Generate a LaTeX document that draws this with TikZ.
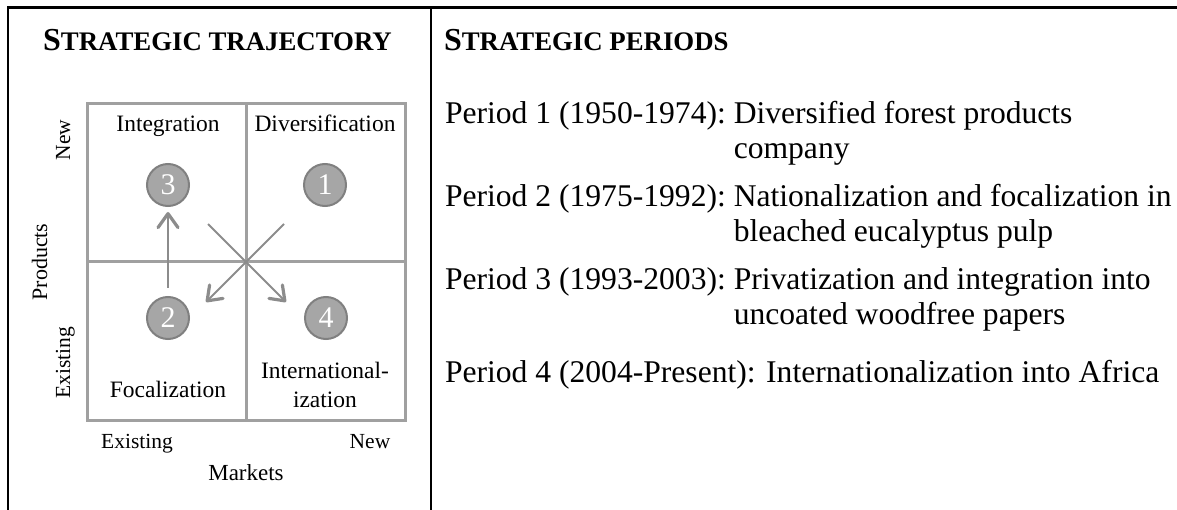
\documentclass[tikz,border=0pt]{standalone}
\usepackage{fontspec}
\setmainfont{Liberation Serif}
\usetikzlibrary{arrows.meta}
\definecolor{gridgray}{RGB}{160,160,160}
\definecolor{arrowgray}{RGB}{140,140,140}
\definecolor{circfill}{RGB}{166,166,166}
\definecolor{circdraw}{RGB}{128,128,128}
\newcommand\ttlbig{\fontsize{32}{34}\selectfont}
\newcommand\ttlsmall{\fontsize{26.8}{34}\selectfont}
\begin{document}
\begin{tikzpicture}[x=1pt,y=-1pt,
  every node/.style={inner sep=0pt, outer sep=0pt},
  frameline/.style={line width=2.6pt, black},
  gridline/.style={line width=3pt, gridgray},
  ttl/.style={font=\bfseries},
  quad/.style={font=\fontsize{23.5}{29}\selectfont, anchor=base},
  axislbl/.style={font=\fontsize{21.5}{25}\selectfont, anchor=base},
  num/.style={circle, fill=circfill, draw=circdraw, line width=2pt, minimum size=42pt, text=white, font=\fontsize{30}{30}\selectfont},
  body/.style={font=\fontsize{31.6}{35}\selectfont, anchor=base west},
  arr/.style={arrowgray, line width=2.7pt, -{Straight Barb[length=14pt,width=20pt,line width=3.2pt,round]}},
  diagarr/.style={arrowgray, line width=2pt, -{Straight Barb[length=13pt,width=19pt,line width=3.2pt,round]}}
]
\useasboundingbox (0,0) rectangle (1177,510);
% frame
\coordinate (tl) at (8,7.5);
\coordinate (tr) at (1177,7.5);
\coordinate (bl) at (8,510);
\coordinate (dt) at (431,7.5);
\coordinate (db) at (431,510);
\draw[frameline] (tr) -- (tl) -- (bl);
\draw[frameline] (dt) -- (db);
% grid
\coordinate (g1) at (87,104);
\coordinate (g2) at (405,420);
\coordinate (gt) at (246,104);
\coordinate (gb) at (246,420);
\coordinate (gl) at (87,262);
\coordinate (gr) at (405,262);
\draw[gridline] (g1) rectangle (g2);
\draw[gridline] (gt) -- (gb);
\draw[gridline] (gl) -- (gr);
% titles
\node[ttl, anchor=base] (t1) at (217.5,51) {\ttlbig S\ttlsmall TRATEGIC TRAJECTORY};
\node[ttl, anchor=base west] (t2) at (444,51) {\ttlbig S\ttlsmall TRATEGIC PERIODS};
% quadrant labels
\node[quad] (qint) at (168,132) {Integration};
\node[quad] (qdiv) at (325,132) {Diversification};
\node[quad] (qfoc) at (168,397) {Focalization};
\node[quad] (qin1) at (325,378) {International-};
\node[quad] (qin2) at (325,407) {ization};
% numbers
\node[num] (n3) at (168,185) {3};
\node[num] (n1) at (325,185) {1};
\node[num] (n2) at (168,318) {2};
\node[num] (n4) at (326,318) {4};
% axis labels
\node[axislbl] (mex) at (137,448) {Existing};
\node[axislbl] (mnew) at (370,448) {New};
\node[axislbl, font=\fontsize{23}{25}\selectfont] (mk) at (246,480) {Markets};
\node[axislbl, rotate=90] (pnew) at (70,140) {New};
\node[axislbl, rotate=90, font=\fontsize{22}{25}\selectfont] (pr) at (47,262) {Products};
\node[axislbl, rotate=90] (pex) at (70,363) {Existing};
% arrows
\coordinate (v0) at (168,288);
\draw[arr] (v0) -- ([yshift=-6pt]n3.south);
\coordinate (a1) at (284,224);
\coordinate (a2) at (206,302);
\coordinate (b1) at (208,224);
\coordinate (b2) at (286,302);
\draw[diagarr] (a1) -- (a2);
\draw[diagarr] (b1) -- (b2);
% right text
\node[body] (p1a) at (445,124) {Period 1 (1950-1974):};
\node[body] (p1b) at ([xshift=7.9pt]p1a.base east) {Diversified forest products};
\node[body] (p1c) at ([yshift=-35pt]p1b.base west) {company};
\node[body] (p2a) at (445,207) {Period 2 (1975-1992):};
\node[body] (p2b) at ([xshift=7.9pt]p2a.base east) {Nationalization and focalization in};
\node[body] (p2c) at ([yshift=-35pt]p2b.base west) {bleached eucalyptus pulp};
\node[body] (p3a) at (445,290) {Period 3 (1993-2003):};
\node[body] (p3b) at ([xshift=7.9pt]p3a.base east) {Privatization and integration into};
\node[body] (p3c) at ([yshift=-35pt]p3b.base west) {uncoated woodfree papers};
\node[body] (p4a) at (445,382) {Period 4 (2004-Present): Internationalization into Africa};
\end{tikzpicture}
\end{document}
